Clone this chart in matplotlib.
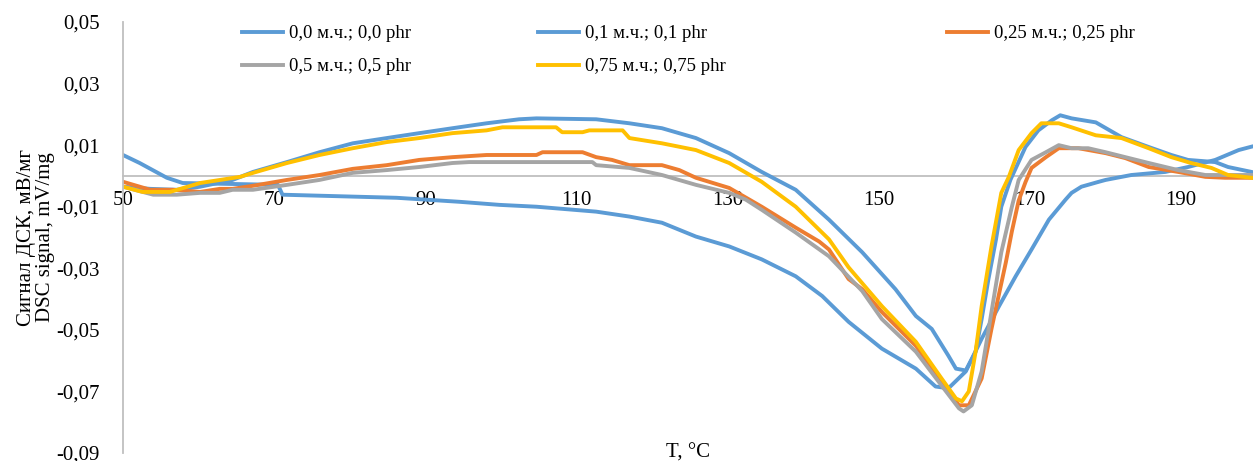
import matplotlib
matplotlib.use("Agg")
import matplotlib.pyplot as plt
from matplotlib.lines import Line2D

plt.rcParams['font.family'] = ['Liberation Serif', 'DejaVu Serif']

# ---- data ----
t_00 = [50.0, 52.2, 55.8, 57.9, 70.5, 71.1, 86.2, 94.5, 99.8, 104.7, 112.6, 117.0, 121.3,
        125.8, 130.2, 134.5, 139.0, 142.5, 146.0, 150.4, 154.9, 157.5, 159.2, 161.5, 163.6,
        165.9, 168.1, 170.2, 172.5, 174.7, 175.5, 176.8, 179.1, 180.0, 183.4, 187.9, 190.9,
        194.5, 197.6, 199.3]
s_00 = [0.0068, 0.0042, -0.0006, -0.0023, -0.0029, -0.0061, -0.0071, -0.0084, -0.0094, -0.0100,
        -0.0116, -0.0132, -0.0152, -0.0197, -0.0229, -0.0271, -0.0326, -0.0390, -0.0474, -0.0561,
        -0.0626, -0.0684, -0.0690, -0.0635, -0.0529, -0.0423, -0.0326, -0.0239, -0.0142, -0.0077,
        -0.0055, -0.0035, -0.0019, -0.0013, 0.0003, 0.0013, 0.0029, 0.0052, 0.0084, 0.0095]

t_01 = [50.0, 53.6, 57.1, 60.2, 64.5, 67.2, 71.7, 76.0, 80.4, 84.9, 89.2, 93.6, 98.1, 102.4,
        104.7, 112.6, 117.0, 121.3, 125.8, 130.2, 134.5, 139.0, 143.4, 147.8, 152.2, 154.9,
        157.0, 159.2, 160.2, 161.5, 162.8, 163.6, 164.5, 165.5, 166.2, 167.4, 169.4, 171.1,
        172.9, 174.0, 175.5, 178.7, 182.1, 185.7, 188.7, 190.9, 194.5, 196.2, 199.3]
s_01 = [-0.0035, -0.0042, -0.0045, -0.0035, -0.0013, 0.0013, 0.0045, 0.0077, 0.0106, 0.0123,
        0.0139, 0.0155, 0.0171, 0.0184, 0.0187, 0.0184, 0.0171, 0.0155, 0.0123, 0.0074, 0.0013,
        -0.0045, -0.0142, -0.0248, -0.0368, -0.0455, -0.0497, -0.0584, -0.0626, -0.0632, -0.0571,
        -0.0465, -0.0335, -0.0206, -0.0100, -0.0013, 0.0094, 0.0148, 0.0181, 0.0197, 0.0187,
        0.0174, 0.0126, 0.0094, 0.0068, 0.0052, 0.0045, 0.0029, 0.0013]

t_025 = [50.0, 53.6, 56.6, 60.2, 62.8, 64.5, 67.2, 71.7, 76.0, 80.4, 84.9, 89.2, 93.6, 98.1,
         104.7, 105.5, 110.8, 112.6, 114.7, 117.0, 121.3, 123.6, 125.8, 130.2, 134.5, 139.0,
         142.1, 143.4, 146.0, 147.8, 150.4, 154.9, 158.3, 160.6, 161.9, 163.6, 164.9, 166.8,
         167.6, 168.5, 169.4, 170.2, 172.1, 173.8, 176.4, 180.0, 182.6, 185.7, 189.6, 193.2,
         195.8, 199.3]
s_025 = [-0.0019, -0.0045, -0.0045, -0.0052, -0.0042, -0.0042, -0.0032, -0.0013, 0.0003, 0.0023,
         0.0035, 0.0052, 0.0061, 0.0068, 0.0068, 0.0077, 0.0077, 0.0061, 0.0052, 0.0035, 0.0035,
         0.0019, -0.0006, -0.0039, -0.0100, -0.0168, -0.0213, -0.0239, -0.0335, -0.0368, -0.0442,
         -0.0552, -0.0668, -0.0745, -0.0745, -0.0658, -0.0497, -0.0281, -0.0180, -0.0080, -0.0020,
         0.0026, 0.0061, 0.0090, 0.0090, 0.0074, 0.0058, 0.0029, 0.0013, -0.0003, -0.0006, -0.0006]

t_05 = [50.0, 54.0, 57.1, 60.2, 62.8, 64.5, 67.2, 71.7, 76.0, 80.4, 84.9, 89.2, 93.6, 95.8,
        104.7, 112.1, 112.6, 117.0, 121.3, 125.8, 130.2, 132.4, 134.5, 139.0, 143.4, 147.8,
        150.4, 154.9, 158.3, 160.6, 161.2, 162.3, 163.6, 164.9, 166.2, 167.6, 168.5, 170.2,
        172.1, 173.8, 175.5, 177.7, 180.0, 182.6, 185.7, 189.6, 193.2, 195.8, 199.3]
s_05 = [-0.0035, -0.0061, -0.0061, -0.0055, -0.0055, -0.0045, -0.0045, -0.0029, -0.0013, 0.0010,
        0.0019, 0.0029, 0.0042, 0.0045, 0.0045, 0.0045, 0.0035, 0.0026, 0.0003, -0.0029, -0.0055,
        -0.0077, -0.0110, -0.0184, -0.0261, -0.0374, -0.0465, -0.0571, -0.0681, -0.0755, -0.0765,
        -0.0745, -0.0635, -0.0442, -0.0248, -0.0100, -0.0013, 0.0052, 0.0077, 0.0100, 0.0090,
        0.0090, 0.0077, 0.0061, 0.0042, 0.0019, 0.0003, 0.0003, 0.0003]

t_075 = [50.0, 52.6, 56.2, 60.2, 65.5, 67.2, 71.7, 76.0, 80.4, 84.9, 89.2, 93.6, 98.1, 100.2,
         107.3, 108.1, 110.8, 111.7, 116.1, 117.0, 121.3, 125.8, 130.2, 134.5, 139.0, 143.4,
         146.0, 150.4, 154.9, 158.3, 160.2, 161.0, 161.9, 162.8, 163.6, 164.9, 166.2, 167.2,
         168.5, 170.2, 171.5, 173.8, 175.5, 178.7, 182.1, 185.7, 188.7, 191.3, 194.0, 196.2,
         199.3]
s_075 = [-0.0035, -0.0052, -0.0052, -0.0023, -0.0003, 0.0010, 0.0042, 0.0068, 0.0090, 0.0110,
         0.0123, 0.0139, 0.0148, 0.0158, 0.0158, 0.0142, 0.0142, 0.0148, 0.0148, 0.0123, 0.0106,
         0.0084, 0.0042, -0.0019, -0.0100, -0.0206, -0.0297, -0.0423, -0.0539, -0.0658, -0.0723,
         -0.0732, -0.0700, -0.0571, -0.0423, -0.0229, -0.0055, -0.0003, 0.0084, 0.0139, 0.0171,
         0.0171, 0.0158, 0.0132, 0.0123, 0.0090, 0.0061, 0.0042, 0.0026, 0.0003, -0.0006]

labels = ["0,0 м.ч.; 0,0 phr", "0,1 м.ч.; 0,1 phr", "0,25 м.ч.; 0,25 phr",
          "0,5 м.ч.; 0,5 phr", "0,75 м.ч.; 0,75 phr"]
colors = ["#5B9BD5", "#5B9BD5", "#ED7D31", "#A5A5A5", "#FFC000"]

x_ticks = [50, 70, 90, 110, 130, 150, 170, 190]
y_ticks = [-0.09, -0.07, -0.05, -0.03, -0.01, 0.01, 0.03, 0.05]

series_t = [t_00, t_01, t_025, t_05, t_075]
series_s = [s_00, s_01, s_025, s_05, s_075]

# ---- figure ----
W, H = 1253, 461
fig = plt.figure(figsize=(W / 100, H / 100), dpi=100)
ax = fig.add_axes([123 / W, 8 / H, (W - 123) / W, 431 / H])

for t, s, c in zip(series_t, series_s, colors):
    ax.plot(t, s, color=c, lw=2.8, solid_joinstyle='round')

ax.set_xlim(50, 199.5)
ax.set_ylim(-0.09, 0.05)

for side in ['top', 'right']:
    ax.spines[side].set_visible(False)
ax.spines['bottom'].set_position(('data', 0))
ax.spines['bottom'].set_color('#BFBFBF')
ax.spines['bottom'].set_linewidth(1.3)
ax.spines['left'].set_color('#BFBFBF')
ax.spines['left'].set_linewidth(1.3)
ax.spines['bottom'].set_zorder(0.5)

ax.set_xticks(x_ticks)
ax.set_xticklabels([str(v) for v in x_ticks])
ax.set_yticks(y_ticks)
ax.set_yticklabels([f"{v:.2f}".replace('.', ',') for v in y_ticks])
ax.tick_params(axis='x', length=0, pad=11, labelsize=15, colors='#000000')
ax.tick_params(axis='y', length=0, pad=17, labelsize=15, colors='#000000')

ax.set_xlabel("T, °C", fontsize=15)
ax.xaxis.set_label_coords(0.5, 0.022)
ax.set_ylabel("Сигнал ДСК, мВ/мг\nDSC signal, mV/mg", fontsize=15, linespacing=1.0)
ax.yaxis.set_label_coords(-0.06, 0.5)

# legend: three columns placed like the reference
col_x = [242, 538, 947]
col_items = [[0, 3], [1, 4], [2]]
for cx, items in zip(col_x, col_items):
    hs = [Line2D([], [], color=colors[i], lw=2.8) for i in items]
    ls = [labels[i] for i in items]
    fig.legend(hs, ls, loc='upper left', bbox_to_anchor=(cx / W, 1 - 25 / H),
               frameon=False, fontsize=13.5, handlelength=2.2, handletextpad=0.3,
               borderpad=0, borderaxespad=0, labelspacing=0.85)

fig.savefig("out.png", dpi=100)
